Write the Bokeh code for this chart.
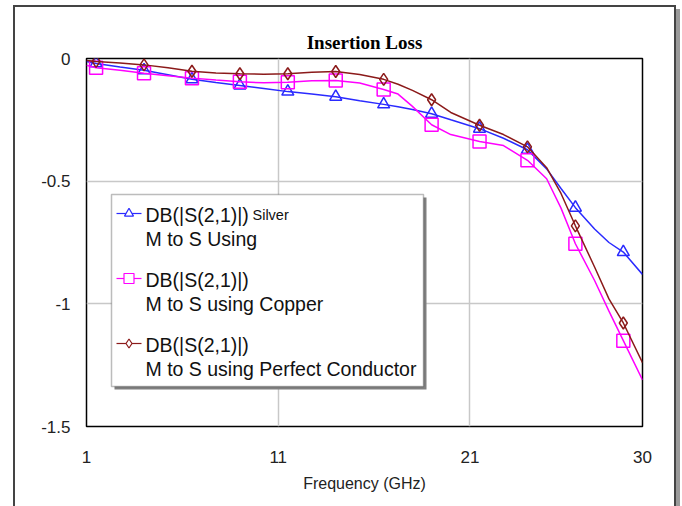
from bokeh.plotting import figure
from bokeh.models import FixedTicker, Label, BoxAnnotation, Range1d, InlineStyleSheet
from bokeh.embed import file_html
from bokeh.resources import INLINE

# ---- data ----
freq = [1, 1.5, 2.75, 4, 5.25, 6.5, 7.75, 9, 10.25, 11.5, 12.75, 14, 15.25, 16.5,
        17.25, 18, 19, 20, 21.5, 22.75, 24, 25, 25.75, 26.5, 27.5, 28.25, 29, 30]
silver = [-0.012, -0.02, -0.035, -0.048, -0.066, -0.085, -0.098, -0.11, -0.122, -0.135,
          -0.145, -0.156, -0.172, -0.187, -0.197, -0.208, -0.225, -0.25, -0.286, -0.325,
          -0.372, -0.45, -0.53, -0.608, -0.695, -0.75, -0.789, -0.88]
copper = [-0.028, -0.038, -0.048, -0.06, -0.07, -0.08, -0.088, -0.095, -0.099, -0.097,
          -0.091, -0.09, -0.1, -0.126, -0.145, -0.195, -0.27, -0.31, -0.338, -0.355,
          -0.415, -0.49, -0.61, -0.755, -0.905, -1.03, -1.15, -1.31]
perfect = [-0.008, -0.012, -0.018, -0.026, -0.038, -0.052, -0.059, -0.062, -0.064, -0.062,
           -0.056, -0.053, -0.065, -0.085, -0.105, -0.13, -0.168, -0.22, -0.272, -0.31,
           -0.36, -0.445, -0.55, -0.682, -0.85, -0.98, -1.078, -1.24]
marker_freq = [1.5, 4, 6.5, 9, 11.5, 14, 16.5, 19, 21.5, 24, 26.5, 29]
x_ticks = [1, 11, 21, 30]
y_ticks = [0, -0.5, -1, -1.5]
y_tick_labels = ["0", "-0.5", "-1", "-1.5"]

BLUE = "#2a2aff"
PINK = "#ff00ff"
BROWN = "#8b1a1a"
FONT = "Liberation Sans"

W, H = 682, 506
FL, FR, FT, FB = 86, 642, 58, 426
X0, X1, Y0, Y1 = 1, 30, -1.5, 0


def dx(sx):
    return X0 + (sx - FL) / (FR - FL) * (X1 - X0)


def dy(sy):
    return Y1 - (sy - FT) / (FB - FT) * (Y1 - Y0)


p = figure(width=W, height=H, output_backend="svg", toolbar_location=None,
           x_range=Range1d(X0, X1), y_range=Range1d(Y0, Y1),
           min_border_left=FL, min_border_right=W - FR,
           min_border_top=FT, min_border_bottom=H - FB)
p.background_fill_color = "white"
p.border_fill_color = "white"
p.outline_line_color = "black"
p.outline_line_width = 1.5

# outer page frame (drawn with CSS around the whole canvas)
p.stylesheets = [InlineStyleSheet(css=(
    ":host::after { content: ''; position: absolute; left: 13px; top: 5px; "
    "width: 659px; height: 530px; border: 2px solid #444444; "
    "box-shadow: 4px 4px 0 #9a9a9a; pointer-events: none; }"
))]

p.title.text = "Insertion Loss"
p.title.align = "center"
p.title.text_font = "Liberation Serif"
p.title.text_font_style = "bold"
p.title.text_font_size = "19px"
p.title.text_color = "black"
p.title.standoff = 12

p.xgrid.ticker = FixedTicker(ticks=[11, 21])
p.ygrid.ticker = FixedTicker(ticks=[-0.5, -1])
for g in (p.xgrid, p.ygrid):
    g.grid_line_color = "#c8c8c8"
    g.grid_line_width = 1.5

p.xaxis.ticker = FixedTicker(ticks=x_ticks)
p.yaxis.ticker = FixedTicker(ticks=y_ticks)
p.yaxis.major_label_overrides = {t: s for t, s in zip([0, -0.5, -1, -1.5], y_tick_labels)}
for ax in (p.xaxis, p.yaxis):
    ax.axis_line_color = None
    ax.major_tick_line_color = None
    ax.minor_tick_line_color = None
    ax.major_label_text_font = FONT
    ax.major_label_text_font_size = "17px"
    ax.major_label_text_color = "#222222"
p.xaxis.major_label_standoff = 18
p.yaxis.major_label_standoff = 10
p.xaxis.axis_label = "Frequency (GHz)"
p.xaxis.axis_label_text_font = FONT
p.xaxis.axis_label_text_font_style = "normal"
p.xaxis.axis_label_text_font_size = "16px"
p.xaxis.axis_label_text_color = "#222222"
p.xaxis.axis_label_standoff = 9

series = [(silver, BLUE, "triangle", 12), (copper, PINK, "square", 13), (perfect, BROWN, "diamond", 12)]
for vals, col, mk, sz in series:
    p.line(freq, vals, line_color=col, line_width=1.5)
    mx = [f for f in marker_freq]
    my = [vals[freq.index(f)] for f in marker_freq]
    p.scatter(mx, my, marker=mk, size=sz, fill_color=None, line_color=col, line_width=1.5)

# ---- legend ----
LL, LT, LR, LB = 111, 194, 423, 386
p.add_layout(BoxAnnotation(left=LL + 3, right=LR + 3, top=LT + 3, bottom=LB + 3,
                           left_units="canvas", right_units="canvas", top_units="canvas",
                           bottom_units="canvas", fill_color="#808080", fill_alpha=1, line_color=None))
p.add_layout(BoxAnnotation(left=LL, right=LR, top=LT, bottom=LB,
                           left_units="canvas", right_units="canvas", top_units="canvas",
                           bottom_units="canvas", fill_color="white", fill_alpha=1,
                           line_color="#222222", line_width=1.5))

rows = [
    (213, "DB(|S(2,1)|)", "Silver", "M to S Using"),
    (278, "DB(|S(2,1)|)", "", "M to S using Copper"),
    (343, "DB(|S(2,1)|)", "", "M to S using Perfect Conductor"),
]
for (sy, t1, extra, t2), (vals, col, mk, sz) in zip(rows, series):
    p.line([dx(116), dx(141)], [dy(sy), dy(sy)], line_color=col, line_width=1.2, level="overlay")
    p.scatter([dx(128.5)], [dy(sy)], marker=mk, size=sz - 3, fill_color="white",
              line_color=col, line_width=1.2, level="overlay")
    p.add_layout(Label(x=145, y=sy + 1, x_units="canvas", y_units="canvas", text=t1,
                       text_baseline="alphabetic", text_font=FONT, text_font_size="19.5px",
                       text_color="#111111"))
    if extra:
        p.add_layout(Label(x=252, y=sy + 1, x_units="canvas", y_units="canvas", text=extra,
                           text_baseline="alphabetic", text_font=FONT, text_font_size="14.5px",
                           text_color="#111111"))
    p.add_layout(Label(x=145, y=sy + 25, x_units="canvas", y_units="canvas", text=t2,
                       text_baseline="alphabetic", text_font=FONT, text_font_size="19.5px",
                       text_color="#111111"))

open("out.html", "w").write(file_html(p, INLINE))
